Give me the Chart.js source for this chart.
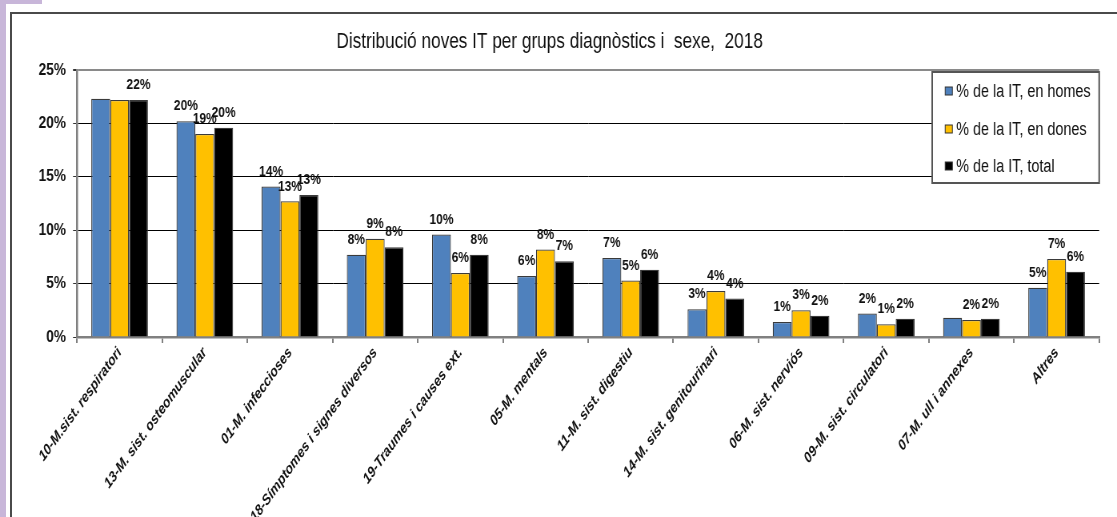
<!DOCTYPE html>
<html>
<head>
<meta charset="utf-8">
<script src="https://cdn.jsdelivr.net/npm/chart.js@4.4.1/dist/chart.umd.min.js"></script>
<style>
  html, body { margin: 0; padding: 0; background: #fff; overflow: hidden; }
  body { width: 1117px; height: 517px; position: relative; }
  .lav-left { position: absolute; left: 0; top: 0; width: 6px; height: 517px; background: #c8b6d9; }
  .lav-top { position: absolute; left: 0; top: 0; width: 42px; height: 4px; background: #c8b6d9; }
  .frame { position: absolute; left: 10px; top: 12px; width: 1200px; height: 600px;
           border-left: 2px solid #4a4a4a; border-top: 2px solid #4a4a4a; }
  #chart { position: absolute; left: 0; top: 0; transform-origin: 0 0; }
</style>
</head>
<body>
<div class="lav-left"></div>
<div class="lav-top"></div>
<div class="frame"></div>
<canvas id="chart"></canvas>
<script>
// the source picture is squeezed horizontally, so draw wide and squeeze it back
const SQUEEZE = 0.8;
const W = Math.round(1117 / SQUEEZE);
const H = 517;

const FONT = `"Liberation Sans", Arial, sans-serif`;

const categories = [
  `10-M.sist. respiratori`,
  `13-M. sist. osteomuscular`,
  `01-M. infeccioses`,
  `18-Símptomes i signes diversos`,
  `19-Traumes i causes ext.`,
  `05-M. mentals`,
  `11-M. sist. digestiu`,
  `14-M. sist. genitourinari`,
  `06-M. sist. nerviós`,
  `09-M. sist. circulatori`,
  `07-M. ull i annexes`,
  `Altres`,
];

const homes = [22.3, 20.2, 14.1, 7.7, 9.6, 5.7, 7.4, 2.6, 1.4, 2.2, 1.8, 4.6];
const dones = [22.2, 19.0, 12.7, 9.2, 6.0, 8.2, 5.3, 4.3, 2.5, 1.2, 1.6, 7.3];
const total = [22.2, 19.6, 13.3, 8.4, 7.7, 7.1, 6.3, 3.6, 2.0, 1.7, 1.7, 6.1];

// labels as printed over the bars (blank where the picture shows none)
const homesLabels = [``, `20%`, `14%`, `8%`, `10%`, `6%`, `7%`, `3%`, `1%`, `2%`, ``, `5%`];
const donesLabels = [``, `19%`, `13%`, `9%`, `6%`, `8%`, `5%`, `4%`, `3%`, `1%`, `2%`, `7%`];
const totalLabels = [`22%`, `20%`, `13%`, `8%`, `8%`, `7%`, `6%`, `4%`, `2%`, `2%`, `2%`, `6%`];

const yTicks = [0, 5, 10, 15, 20, 25];

const PLOT_LEFT = 77 / SQUEEZE;
const PLOT_RIGHT = 1099 / SQUEEZE;
const PLOT_TOP = 70;
const PLOT_BOTTOM = 337;

/**
 * value labels above each bar
 */
const barLabels = {
  id: `barLabels`,
  afterDatasetsDraw(chart) {
    const { ctx } = chart;
    ctx.save();
    ctx.font = `bold 15px ${FONT}`;
    ctx.fillStyle = `#111`;
    ctx.textAlign = `center`;
    ctx.textBaseline = `middle`;
    chart.data.datasets.forEach((ds, i) => {
      chart.getDatasetMeta(i).data.forEach((bar, j) => {
        const text = ds.valueLabels[j];
        if (text) ctx.fillText(text, bar.x, bar.y - 15);
      });
    });
    ctx.restore();
  },
};

/**
 * boxed legend sitting in the top right corner of the plot
 */
const boxLegend = {
  id: `boxLegend`,
  afterDraw(chart) {
    const { ctx, chartArea } = chart;
    const right = chartArea.right;
    const left = 932 / SQUEEZE;
    const top = 72;
    const bottom = 183;
    ctx.save();
    ctx.fillStyle = `#fff`;
    ctx.fillRect(left, top, right - left, bottom - top);
    ctx.strokeStyle = `#555`;
    ctx.lineWidth = 2;
    ctx.strokeRect(left, top, right - left, bottom - top);
    const rows = [91, 129, 166];
    ctx.font = `18px ${FONT}`;
    ctx.textBaseline = `middle`;
    ctx.textAlign = `left`;
    chart.data.datasets.forEach((ds, i) => {
      const y = rows[i];
      ctx.fillStyle = ds.backgroundColor;
      ctx.fillRect(945 / SQUEEZE, y - 4, 9, 8);
      ctx.strokeStyle = `#333`;
      ctx.lineWidth = 1;
      ctx.strokeRect(945 / SQUEEZE, y - 4, 9, 8);
      ctx.fillStyle = `#111`;
      ctx.fillText(ds.label, 956 / SQUEEZE, y + 1);
    });
    ctx.restore();
  },
};

function makeDataset(label, data, color, valueLabels) {
  return {
    label,
    data,
    valueLabels,
    backgroundColor: color,
    borderColor: `#3a3a3a`,
    borderWidth: 1.25,
    categoryPercentage: 0.665,
    barPercentage: 1,
  };
}

const canvas = document.getElementById(`chart`);
canvas.width = W;
canvas.height = H;
canvas.style.width = W + `px`;
canvas.style.height = H + `px`;
canvas.style.transform = `scaleX(${1117 / W})`;

new Chart(canvas, {
  type: `bar`,
  data: {
    labels: categories,
    datasets: [
      makeDataset(`% de la IT, en homes`, homes, `#4f81bd`, homesLabels),
      makeDataset(`% de la IT, en dones`, dones, `#ffc000`, donesLabels),
      makeDataset(`% de la IT, total`, total, `#000000`, totalLabels),
    ],
  },
  options: {
    responsive: false,
    animation: false,
    devicePixelRatio: 1,
    layout: { padding: { left: 0, right: W - PLOT_RIGHT, top: 0, bottom: 0 } },
    plugins: {
      legend: { display: false },
      tooltip: { enabled: false },
      title: {
        display: true,
        text: `Distribució noves IT per grups diagnòstics i  sexe,  2018`,
        color: `#111`,
        font: { family: FONT, size: 21.5, weight: `normal` },
        padding: { top: 29.1, bottom: PLOT_TOP - 29.1 - 21.5 * 1.2 },
      },
    },
    scales: {
      x: {
        afterFit: (scale) => { scale.height = H - PLOT_BOTTOM; },
        grid: {
          offset: true,
          drawOnChartArea: false,
          drawTicks: true,
          tickLength: 6,
          color: `#808080`,
          lineWidth: 2,
        },
        border: { color: `#808080`, width: 2.5 },
        ticks: {
          autoSkip: false,
          maxRotation: 48,
          minRotation: 48,
          padding: 1,
          color: `#111`,
          font: { family: FONT, size: 15, weight: `bold`, style: `italic` },
        },
      },
      y: {
        min: 0,
        max: 25,
        afterFit: (scale) => { scale.width = PLOT_LEFT; },
        afterBuildTicks: (scale) => { scale.ticks = yTicks.map((value) => ({ value })); },
        grid: {
          color: (c) => (c.tick && c.tick.value === 25 ? `#8a8a8a` : `#000`),
          lineWidth: (c) => (c.tick && c.tick.value === 25 ? 2 : 1),
          tickColor: `#333`,
          tickLength: 5,
        },
        border: { color: `#808080`, width: 2.5 },
        ticks: {
          padding: 9,
          color: `#111`,
          font: { family: FONT, size: 17, weight: `bold` },
          callback: (v) => `${v}%`,
        },
      },
    },
  },
  plugins: [barLabels, boxLegend],
});
</script>
</body>
</html>
